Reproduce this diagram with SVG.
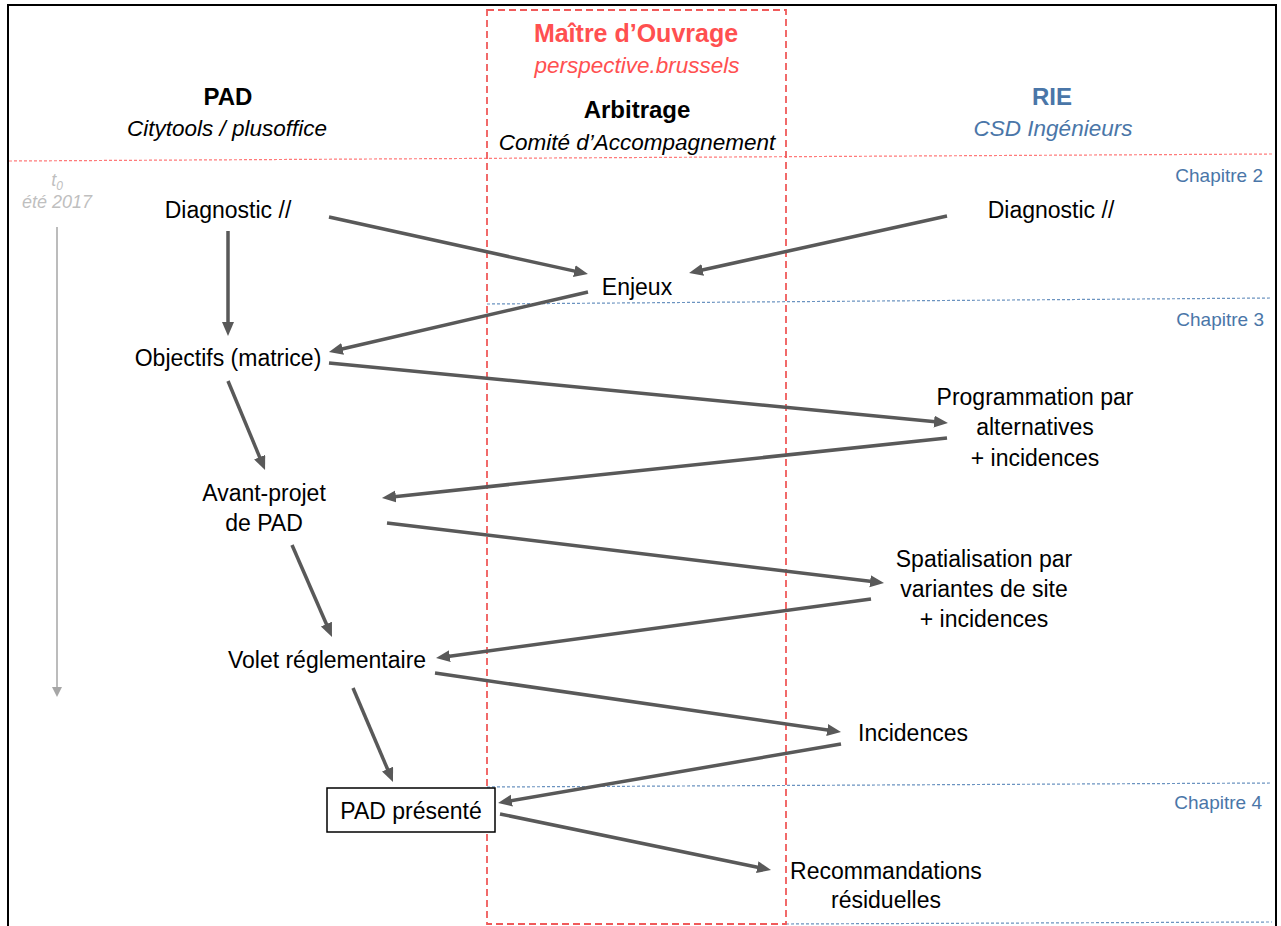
<svg xmlns="http://www.w3.org/2000/svg" width="1281" height="926" viewBox="0 0 1281 926">
<style>
text{font-family:"Liberation Sans",Arial,sans-serif;text-anchor:middle;fill:#000}
.n{font-size:23px}
.h{font-size:24px;font-weight:bold}
.i{font-size:22.5px;font-style:italic}
.red{fill:#ff5050}
.blue{fill:#4a76a8}
.ch{font-size:19px;fill:#4a76a8;text-anchor:end}
.t0{font-size:18px;font-style:italic;fill:#bfbfbf}
.c{stroke:#595959;stroke-width:3.5;fill:none;marker-end:url(#ah)}
.dotr{stroke:#ff7a7a;stroke-width:1.2;stroke-dasharray:3 2;fill:none}
.dotb{stroke:#6b93c0;stroke-width:1.2;stroke-dasharray:3 2;fill:none}
</style>
<defs>
<marker id="ah" markerUnits="userSpaceOnUse" markerWidth="15" markerHeight="13" refX="4" refY="6" orient="auto" viewBox="0 0 15 13">
<path d="M0,0 L14,6 L0,12 z" fill="#595959"/>
</marker>
<marker id="ahg" markerUnits="userSpaceOnUse" markerWidth="12" markerHeight="11" refX="1" refY="5" orient="auto" viewBox="0 0 12 11">
<path d="M0,0 L10,5 L0,10 z" fill="#a6a6a6"/>
</marker>
</defs>
<rect x="8" y="5" width="1268" height="935" fill="#fff" stroke="#000" stroke-width="2"/>
<g id="frame-lines">
<line class="dotr" x1="9" y1="161" x2="1272" y2="154"/>
<line class="dotb" x1="487" y1="304" x2="1272" y2="298"/>
<line class="dotb" x1="487" y1="787" x2="1272" y2="783"/>
<line class="dotb" x1="786" y1="924" x2="1272" y2="922"/>
<rect x="487" y="10" width="299" height="914" fill="none" stroke="#f05a5a" stroke-width="1.8" stroke-dasharray="7 4"/>
</g>
<g id="header-pad">
<text class="h" x="228" y="105">PAD</text>
<text class="i" x="227" y="136">Citytools / plusoffice</text>
</g>
<g id="header-mo">
<text class="h red" x="636" y="42" style="font-size:25px">Maître d’Ouvrage</text>
<text class="i red" x="637" y="73">perspective.brussels</text>
<text class="h" x="637" y="118">Arbitrage</text>
<text class="i" x="637" y="150">Comité d’Accompagnement</text>
</g>
<g id="header-rie">
<text class="h blue" x="1052" y="105">RIE</text>
<text class="i blue" x="1053" y="136">CSD Ingénieurs</text>
</g>
<g id="chapters">
<text class="ch" x="1263" y="182">Chapitre 2</text>
<text class="ch" x="1264" y="326">Chapitre 3</text>
<text class="ch" x="1262" y="809">Chapitre 4</text>
</g>
<g id="timeline">
<text class="t0" x="57" y="186">t<tspan font-size="12" dy="4">0</tspan></text>
<text class="t0" x="57" y="208">été 2017</text>
<line x1="57" y1="227" x2="57" y2="688" stroke="#a6a6a6" stroke-width="1.5" marker-end="url(#ahg)"/>
</g>
<g id="connectors">
<line class="c" x1="329" y1="217" x2="578.2" y2="271.9"/>
<line class="c" x1="947" y1="216" x2="698.8" y2="270.8"/>
<line class="c" x1="228" y1="231" x2="228" y2="326"/>
<line class="c" x1="588" y1="292" x2="338.7" y2="349.7"/>
<line class="c" x1="329" y1="363" x2="938" y2="422"/>
<line class="c" x1="228" y1="381" x2="261.2" y2="460.8"/>
<line class="c" x1="947" y1="438" x2="391.9" y2="496.9"/>
<line class="c" x1="387" y1="523" x2="874.1" y2="581.8"/>
<line class="c" x1="292" y1="545" x2="328" y2="627.8"/>
<line class="c" x1="871" y1="599" x2="445.9" y2="656.7"/>
<line class="c" x1="435" y1="673" x2="831.1" y2="730.6"/>
<line class="c" x1="353" y1="688" x2="389.1" y2="772.8"/>
<line class="c" x1="841" y1="744" x2="507.9" y2="801.3"/>
<line class="c" x1="500" y1="814" x2="761.2" y2="868"/>
</g>
<g id="diag-pad"><text class="n" x="228" y="218">Diagnostic //</text></g>
<g id="diag-rie"><text class="n" x="1051" y="218">Diagnostic //</text></g>
<g id="enjeux"><text class="n" x="637" y="295">Enjeux</text></g>
<g id="objectifs"><text class="n" x="228" y="366">Objectifs (matrice)</text></g>
<g id="programmation">
<text class="n" x="1035" y="405">Programmation par</text>
<text class="n" x="1035" y="435">alternatives</text>
<text class="n" x="1035" y="466">+ incidences</text>
</g>
<g id="avant-projet">
<text class="n" x="264" y="501">Avant-projet</text>
<text class="n" x="264" y="531">de PAD</text>
</g>
<g id="spatialisation">
<text class="n" x="984" y="567">Spatialisation par</text>
<text class="n" x="984" y="597">variantes de site</text>
<text class="n" x="984" y="627">+ incidences</text>
</g>
<g id="volet"><text class="n" x="327" y="668">Volet réglementaire</text></g>
<g id="incidences"><text class="n" x="913" y="741">Incidences</text></g>
<g id="pad-presente">
<rect x="327" y="788" width="168" height="44" fill="#fff" stroke="#000" stroke-width="1.5"/>
<text class="n" x="411" y="819">PAD présenté</text>
</g>
<g id="recommandations">
<text class="n" x="886" y="879">Recommandations</text>
<text class="n" x="886" y="908">résiduelles</text>
</g>
</svg>
